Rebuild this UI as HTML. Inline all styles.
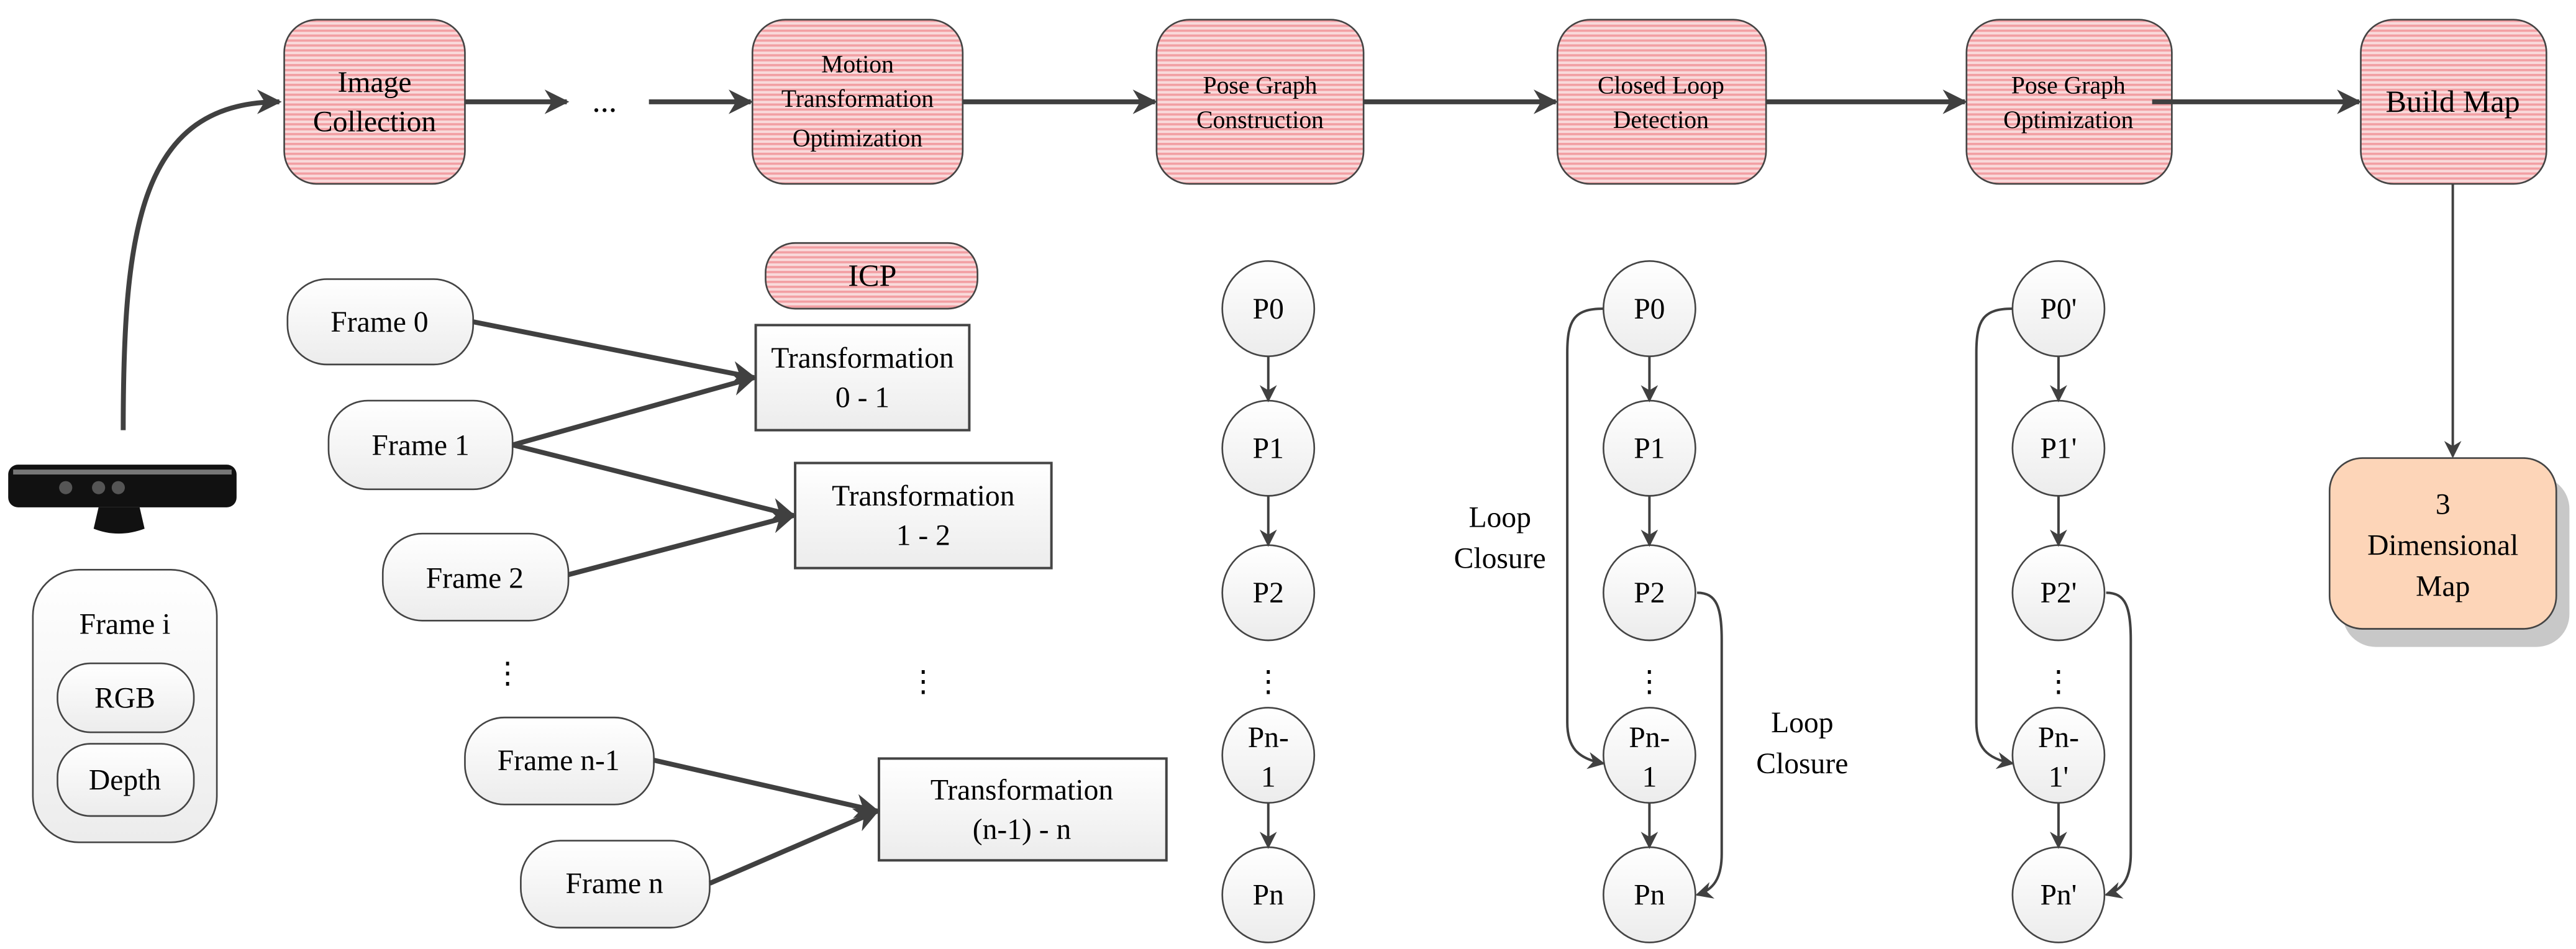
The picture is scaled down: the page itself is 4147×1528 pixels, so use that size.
<!DOCTYPE html>
<html><head><meta charset="utf-8"><style>html,body{margin:0;padding:0;background:#fff;font-family:"Liberation Serif","DejaVu Serif","Times New Roman",serif}svg{display:block}svg text{font-family:"Liberation Serif","DejaVu Serif","Times New Roman",serif !important}</style></head>
<body>
<svg xmlns="http://www.w3.org/2000/svg" width="4147" height="1528" viewBox="0 0 1568 578" preserveAspectRatio="none" style="font-family:'Liberation Serif','DejaVu Serif',serif" fill="#000">
<defs>
<pattern id="pk" width="3" height="3" patternUnits="userSpaceOnUse"><rect width="3" height="3" fill="#f9dadb"/><rect width="3" height="1.4" fill="#f29fa3"/></pattern>
<linearGradient id="gr" x1="0" y1="0" x2="0" y2="1"><stop offset="0" stop-color="#ffffff"/><stop offset="1" stop-color="#ececec"/></linearGradient>
<marker id="ab" viewBox="0 0 10 10" refX="9" refY="5" markerWidth="5" markerHeight="5" orient="auto" markerUnits="strokeWidth"><path d="M0,0 L10,5 L0,10 L3,5 z" fill="#404040"/></marker>
<marker id="as" viewBox="0 0 10 10" refX="9" refY="5" markerWidth="7" markerHeight="7" orient="auto" markerUnits="strokeWidth"><path d="M0,0 L10,5 L0,10 L3,5 z" fill="#404040"/></marker>
</defs>
<g stroke="#444" stroke-width="1">
<rect x="173" y="12" width="110" height="100" rx="20" fill="url(#pk)"/>
<rect x="458" y="12" width="128" height="100" rx="20" fill="url(#pk)"/>
<rect x="704" y="12" width="126" height="100" rx="20" fill="url(#pk)"/>
<rect x="948" y="12" width="127" height="100" rx="20" fill="url(#pk)"/>
<rect x="1197" y="12" width="125" height="100" rx="20" fill="url(#pk)"/>
<rect x="1437" y="12" width="113" height="100" rx="20" fill="url(#pk)"/>
<rect x="466" y="148" width="129" height="40" rx="18" fill="url(#pk)"/>
<rect x="1426" y="290" width="138" height="104" rx="20" fill="#c8c8c8" stroke="none"/>
<rect x="1418" y="279" width="138" height="104" rx="20" fill="#fdd5b8"/>
<rect x="20" y="347" width="112" height="166" rx="28" fill="url(#gr)"/>
<rect x="35" y="404" width="83" height="42" rx="20" fill="url(#gr)"/>
<rect x="35" y="453" width="83" height="44" rx="20" fill="url(#gr)"/>
<rect x="175" y="170" width="113" height="52" rx="24" fill="url(#gr)"/>
<rect x="200" y="244" width="112" height="54" rx="24" fill="url(#gr)"/>
<rect x="233" y="325" width="113" height="53" rx="24" fill="url(#gr)"/>
<rect x="283" y="437" width="115" height="53" rx="24" fill="url(#gr)"/>
<rect x="317" y="512" width="115" height="53" rx="24" fill="url(#gr)"/>
<rect x="460" y="198" width="130" height="64" fill="url(#gr)" stroke-width="1.5"/>
<rect x="484" y="282" width="156" height="64" fill="url(#gr)" stroke-width="1.5"/>
<rect x="535" y="462" width="175" height="62" fill="url(#gr)" stroke-width="1.5"/>
<g fill="url(#gr)">
<ellipse cx="772" cy="188" rx="28" ry="29"/><ellipse cx="772" cy="273" rx="28" ry="29"/><ellipse cx="772" cy="361" rx="28" ry="29"/><ellipse cx="772" cy="460" rx="28" ry="29"/><ellipse cx="772" cy="545" rx="28" ry="29"/>
<ellipse cx="1004" cy="188" rx="28" ry="29"/><ellipse cx="1004" cy="273" rx="28" ry="29"/><ellipse cx="1004" cy="361" rx="28" ry="29"/><ellipse cx="1004" cy="460" rx="28" ry="29"/><ellipse cx="1004" cy="545" rx="28" ry="29"/>
<ellipse cx="1253" cy="188" rx="28" ry="29"/><ellipse cx="1253" cy="273" rx="28" ry="29"/><ellipse cx="1253" cy="361" rx="28" ry="29"/><ellipse cx="1253" cy="460" rx="28" ry="29"/><ellipse cx="1253" cy="545" rx="28" ry="29"/>
</g>
</g>
<g>
<rect x="5" y="283" width="139" height="26" rx="6" fill="#111"/>
<rect x="8" y="286" width="133" height="3" fill="#777"/>
<circle cx="40" cy="297" r="4" fill="#555"/><circle cx="60" cy="297" r="4" fill="#555"/><circle cx="72" cy="297" r="4" fill="#555"/>
<path d="M60,309 L85,309 L88,322 Q72,328 57,322 z" fill="#111"/>
</g>
<g stroke="#404040" stroke-width="3" fill="none" marker-end="url(#ab)">
<path d="M283,62 L345,62"/><path d="M395,62 L457,62"/><path d="M586,62 L703,62"/><path d="M830,62 L947,62"/><path d="M1075,62 L1196,62"/><path d="M1310,62 L1436,62"/>
<path d="M75,262 C75,140 85,62 170,62"/>
<path d="M288,196 L459,230"/><path d="M312,271 L459,230"/><path d="M312,271 L483,314"/><path d="M346,350 L483,314"/><path d="M398,463 L534,494"/><path d="M432,538 L534,494"/>
</g>
<g stroke="#404040" stroke-width="1.5" fill="none" marker-end="url(#as)">
<path d="M1493,112 L1493,278"/>
<path d="M772,217 L772,244"/><path d="M772,302 L772,332"/><path d="M772,489 L772,516"/>
<path d="M1004,217 L1004,244"/><path d="M1004,302 L1004,332"/><path d="M1004,489 L1004,516"/>
<path d="M1253,217 L1253,244"/><path d="M1253,302 L1253,332"/><path d="M1253,489 L1253,516"/>
<path d="M976,188 C958,188 954,195 954,215 L954,440 C954,455 960,462 976,465"/>
<path d="M1033,361 C1045,361 1048,370 1048,390 L1048,520 C1048,535 1043,542 1033,545"/>
<path d="M1225,188 C1207,188 1203,195 1203,215 L1203,440 C1203,455 1209,462 1225,465"/>
<path d="M1282,361 C1294,361 1297,370 1297,390 L1297,520 C1297,535 1292,542 1282,545"/>
</g>
<g text-anchor="middle" font-size="18" font-family="Liberation Serif">
<text x="228" y="56">Image</text><text x="228" y="80">Collection</text>
<text x="368" y="68" font-size="20">...</text>
<text x="522" y="44" font-size="15">Motion</text><text x="522" y="65" font-size="15">Transformation</text><text x="522" y="89" font-size="15">Optimization</text>
<text x="767" y="57" font-size="15">Pose Graph</text><text x="767" y="78" font-size="15">Construction</text>
<text x="1011" y="57" font-size="15">Closed Loop</text><text x="1011" y="78" font-size="15">Detection</text>
<text x="1259" y="57" font-size="15">Pose Graph</text><text x="1259" y="78" font-size="15">Optimization</text>
<text x="1493" y="68" font-size="19">Build Map</text>
<text x="531" y="174" font-size="19">ICP</text>
<text x="1487" y="313">3</text><text x="1487" y="338">Dimensional</text><text x="1487" y="363">Map</text>
<text x="76" y="386">Frame i</text><text x="76" y="431">RGB</text><text x="76" y="481">Depth</text>
<text x="231" y="202">Frame 0</text><text x="256" y="277">Frame 1</text><text x="289" y="358">Frame 2</text><text x="340" y="469">Frame n-1</text><text x="374" y="544">Frame n</text>
<text x="525" y="224">Transformation</text><text x="525" y="248">0 - 1</text>
<text x="562" y="308">Transformation</text><text x="562" y="332">1 - 2</text>
<text x="622" y="487">Transformation</text><text x="622" y="511">(n-1) - n</text>
<text x="309" y="416">⋮</text><text x="562" y="421">⋮</text><text x="772" y="421">⋮</text><text x="1004" y="421">⋮</text><text x="1253" y="421">⋮</text>
<text x="772" y="194">P0</text><text x="772" y="279">P1</text><text x="772" y="367">P2</text><text x="772" y="455">Pn-</text><text x="772" y="479">1</text><text x="772" y="551">Pn</text>
<text x="1004" y="194">P0</text><text x="1004" y="279">P1</text><text x="1004" y="367">P2</text><text x="1004" y="455">Pn-</text><text x="1004" y="479">1</text><text x="1004" y="551">Pn</text>
<text x="1253" y="194">P0'</text><text x="1253" y="279">P1'</text><text x="1253" y="367">P2'</text><text x="1253" y="455">Pn-</text><text x="1253" y="479">1'</text><text x="1253" y="551">Pn'</text>
<text x="913" y="321">Loop</text><text x="913" y="346">Closure</text>
<text x="1097" y="446">Loop</text><text x="1097" y="471">Closure</text>
</g>
</svg>
</body></html>
